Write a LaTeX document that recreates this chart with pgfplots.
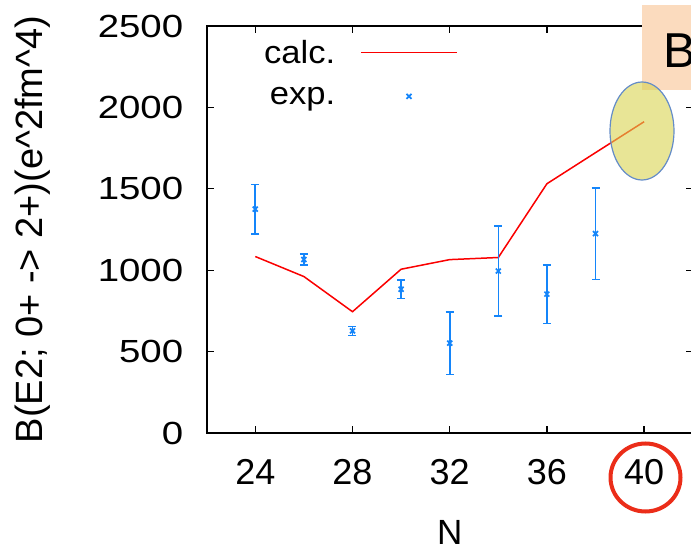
\documentclass[border=0pt]{standalone}
\usepackage{fontspec}
\setmainfont{Liberation Sans}
\newfontfamily\widefont[FakeStretch=1.2]{Liberation Sans}
\newfontfamily\legfont[FakeStretch=1.08]{Liberation Sans}
\usepackage{pgfplots}
\pgfplotsset{compat=1.18}
\definecolor{calcred}{RGB}{250,0,0}
\definecolor{expblue}{RGB}{20,133,250}
\definecolor{boxorange}{RGB}{251,219,190}
\definecolor{ellfill}{RGB}{217,212,80}
\definecolor{ellborder}{RGB}{100,140,200}
\definecolor{circred}{RGB}{235,45,25}
\begin{document}
\begin{tikzpicture}
\useasboundingbox (-206.7bp,-115bp) rectangle (484.3bp,433bp);
\begin{axis}[
  at={(0,0)}, anchor=south west,
  scale only axis, width=486bp, height=407bp,
  xmin=22, xmax=42, ymin=0, ymax=2500,
  xtick={24,28,32,36,40}, ytick={0,500,1000,1500,2000,2500},
  axis line style={line width=2bp},
  major tick style={line width=1.3bp, black},
  major tick length=7bp,
  /pgf/number format/assume math mode=true,
  /pgf/number format/1000 sep={},
  xticklabel style={font=\fontsize{36bp}{40bp}\selectfont, yshift=-23bp},
  yticklabel style={font=\widefont\fontsize{32bp}{38bp}\selectfont, xshift=-20bp},
  xlabel={N}, ylabel={B(E2; 0+ -> 2+)(e\textasciicircum 2fm\textasciicircum 4)},
  xlabel style={font=\fontsize{35bp}{40bp}\selectfont, at={(axis description cs:0.5,-0.2445)}, anchor=center},
  ylabel style={font=\fontsize{38bp}{42bp}\selectfont, at={(axis description cs:-0.3574,0.5)}, anchor=center, rotate=0},
  legend plot pos=right, legend cell align=right,
  legend image code/.code={\draw[mark repeat=2,mark phase=2,#1] plot coordinates {(0bp,0bp) (48bp,0bp) (96bp,0bp)};},
  legend style={draw=none, fill=none, at={(axis description cs:0.1179,0.8844)}, anchor=west,
    inner sep=0pt, row sep=22bp, column sep=25bp,
    nodes={inner sep=0pt, font=\legfont\fontsize{32bp}{36bp}\selectfont}},
]
\addplot[calcred, line width=1.5bp, mark=none] coordinates {
  (24,1084) (26,961) (28,745) (30,1006) (32,1065) (34,1078) (36,1531) (38,1722) (40,1912)
};
\addlegendentry{calc.}
\addplot[expblue, only marks, mark=x, mark size=3.5bp, line width=1.7bp,
  error bars/.cd, y dir=both, y explicit,
  error bar style={line width=1.6bp, expblue},
  error mark options={line width=1.6bp, mark size=4bp, expblue, rotate=90}]
  table[x=x, y=y, y error=e] {
x y e
24 1375 152
26 1066 33
28 627 28
30 883 57
32 552 193
34 995 278
36 853 180
38 1225 281
};
\addlegendentry{exp.}
\end{axis}
\fill[boxorange] (435.3bp,343bp) rectangle (490bp,428bp);
\node[anchor=base west, inner sep=0pt, font=\fontsize{49bp}{52bp}\selectfont] at (456.3bp,365bp) {B};
\fill[ellfill, opacity=0.6] (435.3bp,302bp) ellipse [x radius=32bp, y radius=49bp];
\draw[ellborder, line width=1.2bp] (435.3bp,302bp) ellipse [x radius=32bp, y radius=49bp];
\draw[circred, line width=4bp] (438.8bp,-44.5bp) ellipse [x radius=35bp, y radius=34bp];
\end{tikzpicture}
\end{document}
